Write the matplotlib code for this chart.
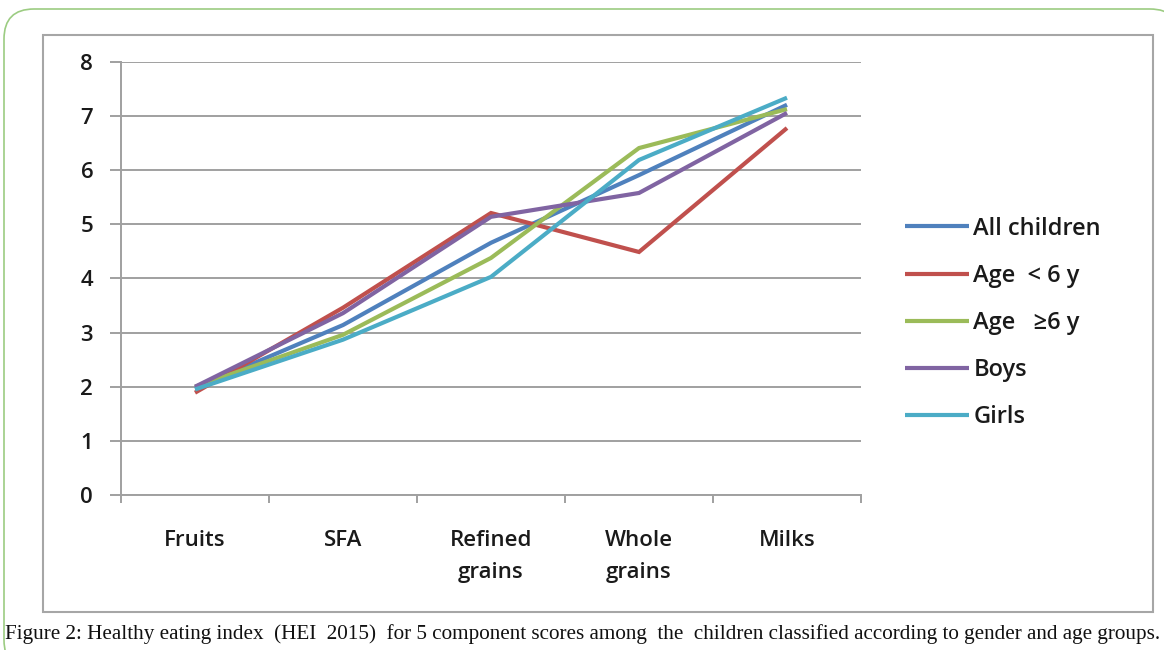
import matplotlib
matplotlib.use("Agg")
import matplotlib.pyplot as plt
from matplotlib.patches import FancyBboxPatch, Rectangle
from matplotlib.transforms import IdentityTransform

# HEI 2015 component scores
categories = ["Fruits", "SFA", "Refined\ngrains", "Whole\ngrains", "Milks"]
all_children = [1.97, 3.14, 4.66, 5.91, 7.21]
age_under6 = [1.89, 3.46, 5.21, 4.49, 6.78]
age_6plus = [2.00, 2.96, 4.38, 6.41, 7.13]
boys = [2.00, 3.36, 5.14, 5.58, 7.06]
girls = [1.95, 2.87, 4.03, 6.19, 7.34]

series_names = ["All children", "Age  < 6 y", "Age   \u22656 y", "Boys", "Girls"]
series_colors = ["#4F81BD", "#C0504D", "#9BBB59", "#8064A2", "#4BACC6"]
y_ticks = [0, 1, 2, 3, 4, 5, 6, 7, 8]

W, H = 1164, 650
fig = plt.figure(figsize=(W / 100, H / 100), dpi=100)
fig.patch.set_facecolor("white")

# page border (rounded, green) in pixel units, filled white so the
# renderer does not clip it against the canvas edge
fig.patches.append(FancyBboxPatch((4, H - 670), 1176, 661,
                                  boxstyle="round,pad=0,rounding_size=30",
                                  transform=IdentityTransform(), fill=True,
                                  facecolor="white", edgecolor="#9CCC82",
                                  linewidth=1.2, zorder=-2))
fig.patches.append(Rectangle((43 / W, (H - 612) / H), 1110 / W, 577 / H,
                             transform=fig.transFigure, fill=False,
                             edgecolor="#A6A6A6", linewidth=1.5, zorder=-1))

ax = fig.add_axes([121 / W, (H - 495) / H, 740 / W, 433 / H])
ax.patch.set_alpha(0)
font = "Open Sans"
weight = "semibold"
text_color = "#1A1A1A"
grid_color = "#A0A0A0"

x = [i + 0.5 for i in range(len(categories))]
data = [all_children, age_under6, age_6plus, boys, girls]
for vals, name, col in zip(data, series_names, series_colors):
    ax.plot(x, vals, color=col, linewidth=3.0, label=name,
            solid_joinstyle="miter", solid_capstyle="butt", zorder=3)

ax.set_xlim(0, len(categories))
ax.set_ylim(0, 8)
ax.set_yticks(y_ticks)
ax.set_yticklabels([str(t) for t in y_ticks], fontfamily=font, fontsize=16,
                   fontweight=weight, color=text_color)
ax.yaxis.grid(True, color=grid_color, linewidth=1.4)
ax.set_axisbelow(True)

ax.set_xticks(range(len(categories) + 1))
ax.set_xticklabels([])
ax.set_xticks(x, minor=True)
ax.set_xticklabels(categories, minor=True, fontfamily=font, fontsize=16,
                   fontweight=weight, color=text_color, linespacing=1.7,
                   va="top")
ax.tick_params(axis="x", which="major", direction="out", length=6,
               width=1.4, color=grid_color)
ax.tick_params(axis="x", which="minor", length=0, pad=25)
ax.tick_params(axis="y", direction="out", length=8, width=1.4,
               color=grid_color, pad=12)

for s in ["top", "right"]:
    ax.spines[s].set_visible(False)
for s in ["left", "bottom"]:
    ax.spines[s].set_color(grid_color)
    ax.spines[s].set_linewidth(1.4)

leg = ax.legend(loc="center left", bbox_to_anchor=(905 / W, (H - 323) / H),
                bbox_transform=fig.transFigure, frameon=False,
                prop={"family": font, "size": 17, "weight": weight},
                handlelength=2.7, handletextpad=0.2, labelspacing=0.98,
                borderaxespad=0, borderpad=0)
for t in leg.get_texts():
    t.set_color(text_color)

fig.text(5 / W, (H - 634) / H,
         "Figure 2: Healthy eating index  (HEI  2015)  for 5 component scores among  the  "
         "children classified according to gender and age groups.",
         fontfamily="Liberation Serif", fontsize=15.2, color="#111111",
         ha="left", va="center")

fig.savefig("out.png", dpi=100)
